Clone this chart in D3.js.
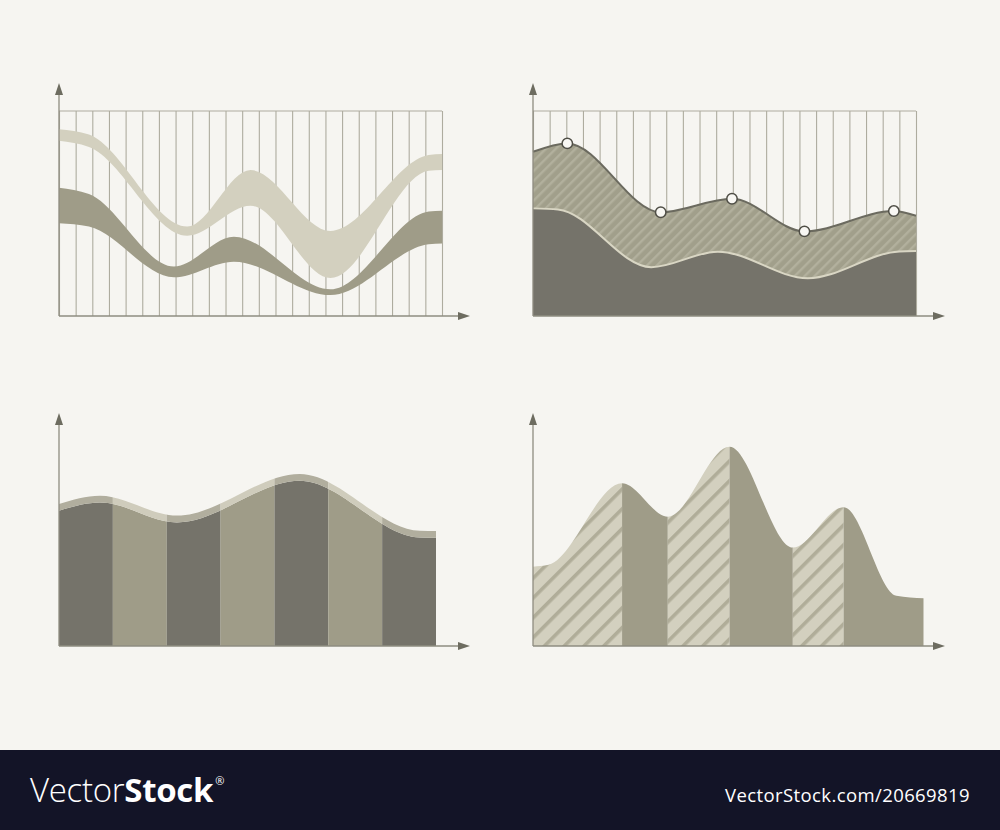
<!DOCTYPE html>
<html><head><meta charset="utf-8">
<script src="https://cdn.jsdelivr.net/npm/d3@7"></script>
<style>html,body{margin:0;padding:0;background:#f6f5f1;} svg{display:block;}</style>
</head><body>
<svg id="c" width="1000" height="830"></svg>
<script>
// ---------------- data ----------------
const gridColumns = 23;
// top-left: two ribbons
const tlLightX = [0, 1.8, 7.7, 11.5, 16.3, 22.2, 23];
const tlLightUpper = [91.1, 88.5, 43.6, 71.2, 41.5, 78.5, 79];
const tlLightLower = [85.5, 82.5, 39.2, 53.8, 18.5, 70.8, 71.2];
const tlDarkX = [0, 1.8, 6.9, 10.5, 16.3, 22.2, 23];
const tlDarkUpper = [62.6, 59.5, 24.1, 38.7, 13, 51, 51.4];
const tlDarkLower = [45.2, 43.6, 18.9, 26.5, 10.2, 35, 35.4];
// top-right: two areas with markers
const trUpperX = [0, 2.06, 7.67, 11.95, 16.3, 21.67, 23];
const trUpperY = [80.1, 84.2, 50.6, 57.2, 41.3, 51.2, 48.9];
const trMarkerIdx = [1, 2, 3, 4, 5];
const trLowerX = [0, 1.5, 7.1, 11.1, 16.5, 22, 23];
const trLowerY = [52.5, 52, 23.8, 31.4, 18.4, 31.5, 31.7];
// bottom-left: striped area
const blColumns = ["A", "B", "C", "D", "E", "F", "G"];
const blCurveX = [0, 0.76, 2.19, 4.47, 6.7, 7];
const blCurveY = [66, 70, 60.3, 80.6, 52.9, 52.8];
// bottom-right: segmented area
const brBounds = [0, 22.8, 34.5, 50.3, 66.5, 79.5, 100];
const brColumnKinds = ["hatched", "solid", "hatched", "solid", "hatched", "solid"];
const brCurveX = [0, 4, 22.8, 34.5, 50.3, 66.5, 79.5, 93, 100];
const brCurveY = [38.7, 39.6, 79.4, 63.1, 97.2, 48, 67.7, 24.5, 23.3];

// ---------------- styles ----------------
const C = {
  bg: "#f6f5f1", axis: "#8e8c80", arrow: "#6d6c60", grid: "#aeac9f",
  dark: "#75736a", mid: "#9f9c88", light: "#d3d0bf",
  trHatchBase: "#a19f8b", trHatchStripe: "#b2b09d", trUpperStroke: "#6b6a5f", trLowerStroke: "#d9d6c4",
  blBandDark: "#b1ae9e", blBandLight: "#cfccbc",
  brStripe: "#b0ad99", footer: "#131427"
};

const svg = d3.select("#c");
svg.append("rect").attr("width", 1000).attr("height", 830).attr("fill", C.bg);

const defs = svg.append("defs");
function stripes(id, w, sw, base, stripe) {
  const p = defs.append("pattern").attr("id", id).attr("patternUnits", "userSpaceOnUse")
    .attr("width", w).attr("height", w).attr("patternTransform", "rotate(45)");
  p.append("rect").attr("width", w).attr("height", w).attr("fill", base);
  p.append("rect").attr("width", sw).attr("height", w).attr("fill", stripe);
}
stripes("trHatch", 7, 2.4, C.trHatchBase, C.trHatchStripe);
stripes("brHatch", 14, 3.6, C.light, C.brStripe);

function axes(g, x0, yBase, yTop, xRight) {
  g.append("line").attr("x1", x0).attr("x2", x0).attr("y1", yBase).attr("y2", yTop + 10)
    .attr("stroke", C.axis).attr("stroke-width", 1.3);
  g.append("line").attr("x1", x0).attr("x2", xRight - 10).attr("y1", yBase).attr("y2", yBase)
    .attr("stroke", C.axis).attr("stroke-width", 1.3);
  g.append("path").attr("d", `M${x0},${yTop} L${x0 - 4},${yTop + 12} L${x0 + 4},${yTop + 12} Z`).attr("fill", C.arrow);
  g.append("path").attr("d", `M${xRight},${yBase} L${xRight - 12},${yBase - 4} L${xRight - 12},${yBase + 4} Z`).attr("fill", C.arrow);
}
function grid(g, x, y) {
  const ax = d3.axisBottom(x).tickValues(d3.range(0, gridColumns + 1)).tickSize(-(y(0) - y(100))).tickFormat("");
  const gg = g.append("g").attr("transform", `translate(0,${y(0)})`).call(ax);
  gg.select(".domain").remove();
  gg.selectAll(".tick line").attr("stroke", C.grid).attr("stroke-width", 1.1);
  g.append("line").attr("x1", x(0)).attr("x2", x(gridColumns)).attr("y1", y(100)).attr("y2", y(100))
    .attr("stroke", C.grid).attr("stroke-width", 1.1);
}

// ---------------- top-left ----------------
{
  const g = svg.append("g");
  const x = d3.scaleLinear().domain([0, gridColumns]).range([59, 442]);
  const y = d3.scaleLinear().domain([0, 100]).range([316, 111]);
  grid(g, x, y);
  const ribbon = (xs, up, lo, fill) => {
    const area = d3.area().curve(d3.curveMonotoneX).x(i => x(xs[i])).y0(i => y(lo[i])).y1(i => y(up[i]));
    g.append("path").attr("d", area(d3.range(xs.length))).attr("fill", fill);
  };
  ribbon(tlDarkX, tlDarkUpper, tlDarkLower, C.mid);
  ribbon(tlLightX, tlLightUpper, tlLightLower, C.light);
  axes(g, 59, 316, 83, 470);
}

// ---------------- top-right ----------------
{
  const g = svg.append("g");
  const x = d3.scaleLinear().domain([0, gridColumns]).range([533, 916]);
  const y = d3.scaleLinear().domain([0, 100]).range([316, 111]);
  grid(g, x, y);
  const upArea = d3.area().curve(d3.curveMonotoneX).x(i => x(trUpperX[i])).y0(y(0)).y1(i => y(trUpperY[i]));
  const upLine = d3.line().curve(d3.curveMonotoneX).x(i => x(trUpperX[i])).y(i => y(trUpperY[i]));
  const idxU = d3.range(trUpperX.length);
  g.append("path").attr("d", upArea(idxU)).attr("fill", "url(#trHatch)");
  g.append("path").attr("d", upLine(idxU)).attr("fill", "none").attr("stroke", C.trUpperStroke).attr("stroke-width", 2);
  const loArea = d3.area().curve(d3.curveMonotoneX).x(i => x(trLowerX[i])).y0(y(0)).y1(i => y(trLowerY[i]));
  const loLine = d3.line().curve(d3.curveMonotoneX).x(i => x(trLowerX[i])).y(i => y(trLowerY[i]));
  const idxL = d3.range(trLowerX.length);
  g.append("path").attr("d", loArea(idxL)).attr("fill", C.dark);
  g.append("path").attr("d", loLine(idxL)).attr("fill", "none").attr("stroke", C.trLowerStroke).attr("stroke-width", 2);
  g.selectAll("circle.m").data(trMarkerIdx).join("circle").attr("class", "m")
    .attr("cx", i => x(trUpperX[i])).attr("cy", i => y(trUpperY[i])).attr("r", 5.2)
    .attr("fill", "#f8f7f3").attr("stroke", "#4f4e46").attr("stroke-width", 1.5);
  axes(g, 533, 316, 83, 945);
}

// ---------------- bottom-left ----------------
{
  const g = svg.append("g");
  const x = d3.scaleLinear().domain([0, blColumns.length]).range([59, 436]);
  const y = d3.scaleLinear().domain([0, 100]).range([646, 441]);
  const band = 3.3;
  const idx = d3.range(blCurveX.length);
  const bodyArea = d3.area().curve(d3.curveMonotoneX).x(i => x(blCurveX[i])).y0(y(0)).y1(i => y(blCurveY[i]));
  const bandArea = d3.area().curve(d3.curveMonotoneX).x(i => x(blCurveX[i])).y0(i => y(blCurveY[i])).y1(i => y(blCurveY[i] + band));
  defs.append("clipPath").attr("id", "blBody").append("path").attr("d", bodyArea(idx));
  defs.append("clipPath").attr("id", "blBand").append("path").attr("d", bandArea(idx));
  g.append("g").attr("clip-path", "url(#blBody)").selectAll("rect").data(blColumns).join("rect")
    .attr("x", (d, i) => x(i)).attr("width", (d, i) => x(i + 1) - x(i)).attr("y", y(100)).attr("height", y(0) - y(100))
    .attr("fill", (d, i) => i % 2 === 0 ? C.dark : C.mid);
  g.append("g").attr("clip-path", "url(#blBand)").selectAll("rect").data(blColumns).join("rect")
    .attr("x", (d, i) => x(i)).attr("width", (d, i) => x(i + 1) - x(i)).attr("y", y(100)).attr("height", y(0) - y(100))
    .attr("fill", (d, i) => i % 2 === 0 ? C.blBandDark : C.blBandLight);
  axes(g, 59, 646, 413, 470);
}

// ---------------- bottom-right ----------------
{
  const g = svg.append("g");
  const x = d3.scaleLinear().domain([0, 100]).range([533, 923.7]);
  const y = d3.scaleLinear().domain([0, 100]).range([646, 441]);
  const idx = d3.range(brCurveX.length);
  const bodyArea = d3.area().curve(d3.curveMonotoneX).x(i => x(brCurveX[i])).y0(y(0)).y1(i => y(brCurveY[i]));
  defs.append("clipPath").attr("id", "brBody").append("path").attr("d", bodyArea(idx));
  g.append("g").attr("clip-path", "url(#brBody)").selectAll("rect").data(brColumnKinds).join("rect")
    .attr("x", (d, i) => x(brBounds[i])).attr("width", (d, i) => x(brBounds[i + 1]) - x(brBounds[i]))
    .attr("y", y(100)).attr("height", y(0) - y(100))
    .attr("fill", d => d === "hatched" ? "url(#brHatch)" : C.mid);
  axes(g, 533, 646, 413, 945);
}

// ---------------- footer ----------------
svg.append("rect").attr("x", 0).attr("y", 750).attr("width", 1000).attr("height", 80).attr("fill", C.footer);
const logo = svg.append("text").attr("x", 30).attr("y", 802).attr("fill", "#ffffff")
  .attr("font-family", "'Open Sans', 'Noto Sans', sans-serif").attr("font-size", 33).attr("letter-spacing", -0.3);
logo.append("tspan").attr("font-weight", 300).text("Vector");
logo.append("tspan").attr("font-weight", 700).text("Stock");
logo.append("tspan").attr("font-size", 11).attr("dy", -17).attr("dx", 2).attr("font-weight", 400).text("®");
svg.append("text").attr("x", 970).attr("y", 802).attr("text-anchor", "end").attr("fill", "#ffffff")
  .attr("font-family", "'Open Sans', 'Noto Sans', sans-serif").attr("font-size", 18.5).attr("letter-spacing", 0.4)
  .text("VectorStock.com/20669819");
</script>
</body></html>
